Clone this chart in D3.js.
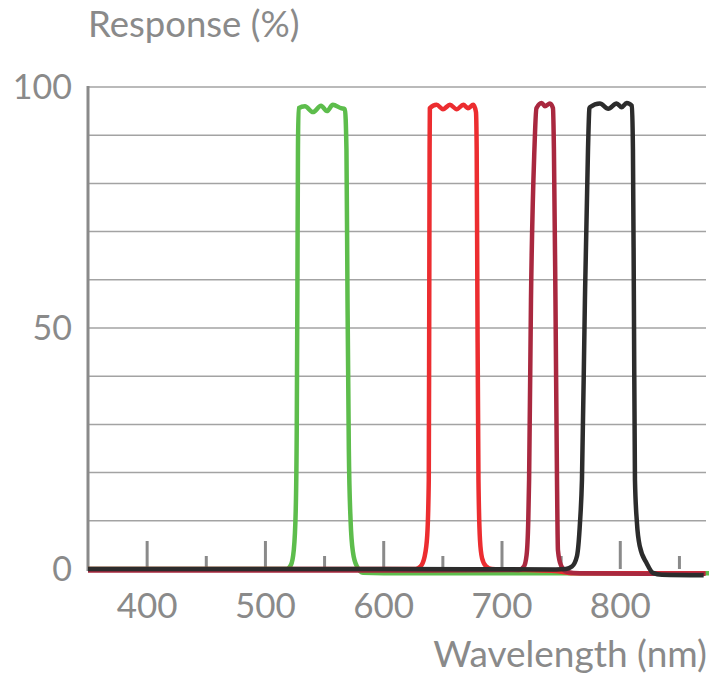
<!DOCTYPE html>
<html>
<head>
<meta charset="utf-8">
<script src="https://cdn.jsdelivr.net/npm/d3@7"></script>
<style>
  html, body { margin: 0; padding: 0; background: #ffffff; }
  svg { display: block; }
  text { font-family: Lato, "Open Sans", "DejaVu Sans", sans-serif; fill: #8a8a8a; }
</style>
</head>
<body>
<svg id="chart" width="712" height="680"></svg>
<script>
// ---- data (wavelength nm, response %) ----
const greenCurve = [
  [350, 0], [450, 0], [518, 0], [521.5, 0.8], [524, 4], [525.6, 12], [526.5, 30], [527, 55.8],
  [527.5, 87], [528, 95.6],
  [533.4, 96], [540.2, 94.8], [547, 96.1], [552, 95], [557, 96.3], [563.9, 95.6], [567.2, 95.4],
  [568.5, 87], [569.4, 55.8], [570.5, 25], [572, 10], [574, 3.5], [577.4, 0.5], [582.5, -0.8],
  [600, -0.9], [750, -0.9], [875, -0.9]
];
const redCurve = [
  [350, 0], [550, 0], [627, 0], [631, 0.5], [634.5, 2.5], [636.8, 7], [638.1, 18.5],
  [638.5, 55.8], [638.8, 87], [639, 95.6], [644.7, 96.3], [650.1, 95.4], [656, 96.3],
  [661.7, 95.4], [667.3, 96.3], [671.2, 95.6], [675.7, 96.3], [678, 94.8], [678.6, 87],
  [679.2, 55.8], [680.1, 18.5], [681.4, 6], [683.1, 2.3], [686.4, 0.6], [691.5, 0],
  [720, -0.2], [745, -0.4], [760, -0.9], [872, -0.9]
];
const crimsonCurve = [
  [350, -0.3], [600, -0.3], [714, -0.2], [718.5, 0.5], [720.8, 2.9], [722.2, 10],
  [722.9, 18.5], [724.5, 55.8], [727.4, 87], [729.1, 95.6], [733.5, 96.7], [736.3, 96],
  [740.5, 96.6], [743.1, 95.6], [743.9, 87], [745.2, 55.8], [746.5, 18.5], [747.3, 3.9],
  [749.8, 0.8], [754.9, -0.6], [765.9, -0.9], [820, -1.0], [872, -1.0]
];
const blackCurve = [
  [350, 0], [600, 0], [745.6, -0.1], [754, 0], [759.1, 0.5], [763.4, 2.7], [765.9, 9.5],
  [767.6, 18.5], [770.1, 55.8], [772.7, 87], [773.9, 95.6], [774.3, 95.8], [782.8, 96.6],
  [789.8, 95.5], [796.9, 96.6], [801.1, 95.8], [805.4, 96.7], [809.8, 96.1], [810.7, 87],
  [811.5, 55.8], [812.4, 18.5], [814.1, 9.5], [816.6, 4.6], [822.3, 1.2], [827.6, -0.8],
  [835.2, -1.2], [870.5, -1.3]
];
const series = [
  { name: "green", color: "#5dbd4c", points: greenCurve },
  { name: "red", color: "#ec2d30", points: redCurve },
  { name: "crimson", color: "#a9283f", points: crimsonCurve },
  { name: "black", color: "#2c2c2c", points: blackCurve }
];
const majorTicks = [400, 500, 600, 700, 800];
const minorTicks = [450, 550, 650, 750, 850];
const gridValues = [10, 20, 30, 40, 50, 60, 70, 80, 90, 100];
const yTickLabels = [0, 50, 100];
const yTitle = "Response (%)";
const xTitle = "Wavelength (nm)";

// ---- layout ----
const svg = d3.select("#chart");
const x = d3.scaleLinear().domain([350, 875]).range([88, 709]);
const y = d3.scaleLinear().domain([0, 100]).range([569, 87]);
const gridRight = 706;

// gridlines
svg.append("g").selectAll("line").data(gridValues).join("line")
  .attr("x1", x(350)).attr("x2", gridRight)
  .attr("y1", d => y(d)).attr("y2", d => y(d))
  .attr("stroke", "#a3a3a3").attr("stroke-width", 1.5);

// left axis line
svg.append("line")
  .attr("x1", x(350)).attr("x2", x(350))
  .attr("y1", y(100) - 1).attr("y2", y(0) + 2)
  .attr("stroke", "#8a8a8a").attr("stroke-width", 3);

// x ticks (drawn upward from baseline)
svg.append("g").selectAll("line").data(majorTicks).join("line")
  .attr("x1", d => x(d)).attr("x2", d => x(d))
  .attr("y1", y(0)).attr("y2", y(0) - 28)
  .attr("stroke", "#8a8a8a").attr("stroke-width", 3);
svg.append("g").selectAll("line").data(minorTicks).join("line")
  .attr("x1", d => x(d)).attr("x2", d => x(d))
  .attr("y1", y(0)).attr("y2", y(0) - 13)
  .attr("stroke", "#8a8a8a").attr("stroke-width", 3);

// curves
const line = d3.line()
  .x(d => x(d[0])).y(d => y(d[1]))
  .curve(d3.curveMonotoneX);
svg.append("g").selectAll("path").data(series).join("path")
  .attr("d", d => line(d.points))
  .attr("fill", "none")
  .attr("stroke", d => d.color)
  .attr("stroke-width", 4.5)
  .attr("stroke-linejoin", "round")
  .attr("stroke-linecap", "butt");

// x tick labels
svg.append("g").selectAll("text").data(majorTicks).join("text")
  .attr("x", d => x(d)).attr("y", 618)
  .attr("text-anchor", "middle")
  .attr("font-size", 35)
  .text(d => d);

// y tick labels
svg.append("g").selectAll("text").data(yTickLabels).join("text")
  .attr("x", 72).attr("y", d => y(d) + 12)
  .attr("text-anchor", "end")
  .attr("font-size", 34)
  .text(d => d);

// titles
svg.append("text").attr("x", 88).attr("y", 37)
  .attr("font-size", 36.5).text(yTitle);
svg.append("text").attr("x", 707).attr("y", 667)
  .attr("text-anchor", "end")
  .attr("font-size", 37).text(xTitle);
</script>
</body>
</html>
